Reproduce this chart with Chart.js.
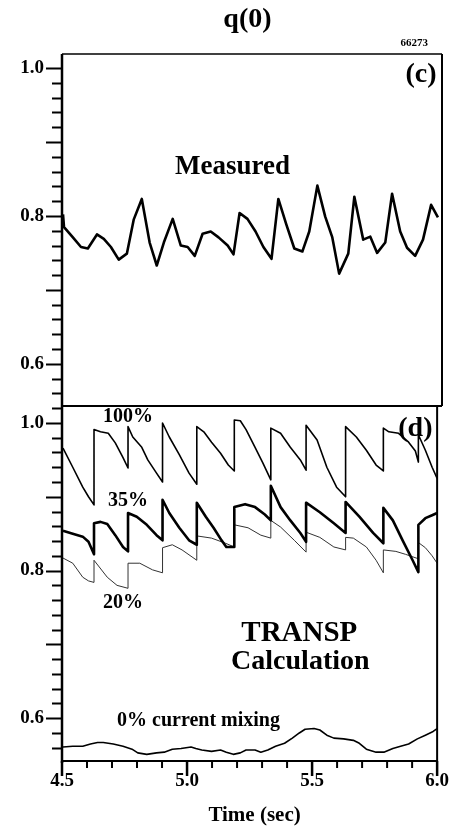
<!DOCTYPE html>
<html>
<head>
<meta charset="utf-8">
<script src="https://cdn.jsdelivr.net/npm/chart.js@4.4.1/dist/chart.umd.min.js"></script>
<style>
  html, body { margin: 0; padding: 0; background: #fff; }
  #wrap { position: relative; width: 458px; height: 828px; }
  canvas { position: absolute; left: 0; top: 0; }
</style>
</head>
<body>
<div id="wrap">
  <canvas id="topChart" width="458" height="828"></canvas>
  <canvas id="botChart" width="458" height="828"></canvas>
</div>
<script>
// measured q(0)
const measT = [4.504,4.508,4.543,4.575,4.602,4.638,4.665,4.693,4.724,4.756,4.783,4.815,4.846,4.874,4.902,4.937,4.969,4.996,5.024,5.055,5.087,5.118,5.154,5.177,5.201,5.232,5.264,5.295,5.327,5.354,5.386,5.417,5.449,5.476,5.508,5.539,5.567,5.594,5.630,5.654,5.689,5.717,5.744,5.776,5.803,5.835,5.862,5.894,5.925,5.957,5.984];
const measQ = [0.802,0.785,0.771,0.758,0.756,0.775,0.769,0.758,0.741,0.749,0.795,0.823,0.764,0.733,0.764,0.796,0.760,0.758,0.746,0.776,0.779,0.771,0.760,0.748,0.804,0.796,0.779,0.758,0.742,0.823,0.788,0.756,0.752,0.779,0.841,0.799,0.771,0.722,0.749,0.826,0.768,0.772,0.750,0.764,0.830,0.779,0.757,0.746,0.768,0.815,0.798];

// TRANSP, 100% mixing
const t100 = [4.504,4.543,4.583,4.606,4.628, 4.628,4.654,4.685,4.713,4.744,4.764, 4.764,4.783,4.819,4.843,4.878,4.902, 4.902,4.929,4.969,5.008,5.039, 5.039,5.067,5.098,5.134,5.165,5.189, 5.189,5.213,5.236,5.272,5.303,5.335, 5.335,5.374,5.413,5.453,5.476, 5.476,5.520,5.559,5.598,5.634, 5.634,5.677,5.717,5.756,5.785, 5.785,5.807,5.846,5.886,5.913,5.925, 5.925,5.953,5.980,6.000];
const q100 = [0.966,0.940,0.913,0.900,0.889, 0.991,0.988,0.986,0.973,0.953,0.939, 0.995,0.981,0.967,0.950,0.932,0.920, 1.000,0.981,0.957,0.932,0.917, 0.995,0.988,0.974,0.959,0.943,0.935, 1.004,1.003,0.991,0.967,0.946,0.923, 0.993,0.986,0.967,0.950,0.936, 0.997,0.977,0.940,0.913,0.900, 0.995,0.981,0.963,0.943,0.935, 0.993,0.988,0.986,0.974,0.962,0.947, 0.984,0.963,0.940,0.925];

// 35% mixing
const t35 = [4.504,4.543,4.583,4.606,4.628, 4.628,4.654,4.681,4.713,4.744,4.764, 4.764,4.799,4.839,4.878,4.902, 4.902,4.929,4.969,5.008,5.039, 5.039,5.075,5.106,5.138,5.157,5.189, 5.189,5.232,5.272,5.311,5.335, 5.335,5.374,5.413,5.453,5.476, 5.476,5.531,5.587,5.634, 5.634,5.689,5.744,5.785, 5.785,5.823,5.862,5.902,5.925, 5.925,5.953,5.980,6.000];
const q35 = [0.854,0.850,0.846,0.839,0.822, 0.864,0.866,0.863,0.848,0.832,0.826, 0.878,0.873,0.862,0.848,0.841, 0.896,0.878,0.858,0.841,0.835, 0.892,0.873,0.858,0.841,0.832,0.832, 0.886,0.890,0.886,0.876,0.868, 0.915,0.886,0.868,0.851,0.839, 0.892,0.879,0.864,0.851, 0.893,0.873,0.851,0.837, 0.885,0.868,0.841,0.814,0.798, 0.862,0.871,0.875,0.878];

// 20% mixing
const t20 = [4.504,4.543,4.583,4.606,4.628, 4.628,4.681,4.720,4.764, 4.764,4.811,4.862,4.902, 4.902,4.941,4.980,5.039, 5.039,5.098,5.154,5.189, 5.189,5.244,5.295,5.335, 5.335,5.374,5.429,5.476, 5.476,5.531,5.587,5.634, 5.634,5.665,5.717,5.756,5.785, 5.785,5.835,5.874,5.925, 5.925,5.953,5.980,6.000];
const q20 = [0.817,0.810,0.791,0.786,0.784, 0.814,0.791,0.780,0.776, 0.810,0.810,0.801,0.797, 0.831,0.835,0.828,0.814, 0.847,0.844,0.837,0.832, 0.862,0.858,0.848,0.844, 0.868,0.859,0.841,0.825, 0.852,0.845,0.832,0.828, 0.845,0.844,0.832,0.814,0.797, 0.828,0.826,0.822,0.816, 0.838,0.831,0.820,0.810];

// 0% current mixing
const t0 = [4.504,4.543,4.583,4.614,4.642,4.665,4.705,4.744,4.780,4.803,4.839,4.878,4.909,4.941,4.976,5.016,5.035,5.059,5.098,5.134,5.157,5.185,5.213,5.236,5.272,5.295,5.323,5.354,5.390,5.421,5.449,5.472,5.508,5.531,5.559,5.587,5.626,5.665,5.689,5.717,5.756,5.787,5.823,5.854,5.886,5.921,5.953,5.984,6.000];
const q0 = [0.561,0.562,0.562,0.565,0.567,0.567,0.565,0.562,0.558,0.553,0.551,0.553,0.554,0.558,0.559,0.561,0.559,0.557,0.555,0.557,0.554,0.551,0.553,0.557,0.557,0.554,0.557,0.562,0.566,0.573,0.580,0.585,0.586,0.584,0.577,0.573,0.572,0.570,0.566,0.558,0.554,0.554,0.559,0.562,0.565,0.572,0.577,0.582,0.586];

const yLabels = [0.6, 0.8, 1.0];
const xLabels = [4.5, 5.0, 5.5, 6.0];

const FONT = "'Liberation Serif', 'Times New Roman', serif";
const pts = (ts, qs) => ts.map((t, i) => ({x: t, y: qs[i]}));

// box + tick marks of different lengths
const frameTicks = {
  id: 'frameTicks',
  afterDraw(chart, args, opts) {
    const {ctx, chartArea: {left, top, right, bottom}} = chart;
    const y = chart.scales.y, x = chart.scales.x;
    ctx.save();
    ctx.strokeStyle = '#000';
    ctx.lineCap = 'butt';
    ctx.lineWidth = 1.6;
    ctx.beginPath(); ctx.moveTo(left, top); ctx.lineTo(right, top); ctx.stroke();
    ctx.lineWidth = 2;
    ctx.beginPath(); ctx.moveTo(left, bottom); ctx.lineTo(right, bottom); ctx.stroke();
    ctx.beginPath(); ctx.moveTo(right, top); ctx.lineTo(right, bottom); ctx.stroke();
    ctx.lineWidth = 2.5;
    ctx.beginPath(); ctx.moveTo(left, top); ctx.lineTo(left, bottom + (opts.xTicks ? 2 : 0)); ctx.stroke();
    // y ticks every 0.02
    ctx.lineWidth = 2;
    for (let k = Math.ceil(y.min * 50); k <= Math.floor(y.max * 50); k++) {
      const py = Math.round(y.getPixelForValue(k / 50)) + 0.5;
      const len = (k % 5 === 0) ? 16 : 10;
      ctx.beginPath(); ctx.moveTo(left - len, py); ctx.lineTo(left, py); ctx.stroke();
    }
    // x ticks every 0.1
    if (opts.xTicks) {
      for (let k = 45; k <= 60; k++) {
        const px = x.getPixelForValue(k / 10);
        const len = (k % 5 === 0) ? 15 : 7;
        ctx.lineWidth = (k % 5 === 0) ? 2.5 : 2;
        ctx.beginPath(); ctx.moveTo(px, bottom); ctx.lineTo(px, bottom + len); ctx.stroke();
      }
    }
    ctx.restore();
  }
};

// annotation texts placed in data coordinates
const notes = {
  id: 'notes',
  afterDraw(chart, args, opts) {
    const {ctx} = chart;
    const x = chart.scales.x, y = chart.scales.y;
    ctx.save();
    ctx.fillStyle = '#000';
    ctx.textBaseline = 'middle';
    (opts.items || []).forEach(n => {
      ctx.font = 'bold ' + n.size + 'px ' + FONT;
      ctx.textAlign = n.align || 'center';
      ctx.fillText(n.text, x.getPixelForValue(n.t), y.getPixelForValue(n.q));
    });
    ctx.restore();
  }
};

function yScale(min, max) {
  return {
    type: 'linear',
    min: min,
    max: max,
    afterFit(s) { s.width = 62; },
    afterBuildTicks(s) { s.ticks = yLabels.map(v => ({value: v})); },
    grid: {display: false, drawTicks: false},
    border: {display: false},
    ticks: {
      padding: 18,
      color: '#000',
      font: {family: FONT, size: 19, weight: 'bold'},
      callback: v => v.toFixed(1)
    }
  };
}

const lineDs = (data, w, color) => ({
  data: data,
  borderColor: color || '#000',
  borderWidth: w,
  pointRadius: 0,
  tension: 0,
  fill: false,
  borderJoinStyle: 'round'
});

new Chart(document.getElementById('topChart'), {
  type: 'line',
  data: {datasets: [lineDs(pts(measT, measQ), 2.6)]},
  options: {
    responsive: false,
    animation: false,
    layout: {padding: {left: 0, right: 16, top: 54, bottom: 422}},
    plugins: {
      legend: {display: false},
      tooltip: {enabled: false},
      frameTicks: {xTicks: false},
      notes: {items: [
        {text: 'q(0)', t: 5.232, q: 1.065, size: 28},
        {text: '66273', t: 5.890, q: 1.034, size: 11},
        {text: '(c)', t: 5.917, q: 0.991, size: 28},
        {text: 'Measured', t: 5.173, q: 0.866, size: 27}
      ]}
    },
    scales: {
      x: {type: 'linear', min: 4.5, max: 6.0, display: false},
      y: yScale(0.543, 1.019)
    }
  },
  plugins: [frameTicks, notes]
});

new Chart(document.getElementById('botChart'), {
  type: 'line',
  data: {datasets: [
    lineDs(pts(t100, q100), 1.6),
    lineDs(pts(t35, q35), 2.6),
    lineDs(pts(t20, q20), 1, '#333'),
    lineDs(pts(t0, q0), 1.6)
  ]},
  options: {
    responsive: false,
    animation: false,
    layout: {padding: {left: 0, right: 16, top: 406, bottom: 0}},
    plugins: {
      legend: {display: false},
      tooltip: {enabled: false},
      frameTicks: {xTicks: true},
      notes: {items: [
        {text: '(d)', t: 5.913, q: 0.992, size: 28},
        {text: '100%', t: 4.764, q: 1.008, size: 20},
        {text: '35%', t: 4.764, q: 0.894, size: 20},
        {text: '20%', t: 4.744, q: 0.756, size: 20},
        {text: 'TRANSP', t: 5.449, q: 0.715, size: 29},
        {text: 'Calculation', t: 5.453, q: 0.676, size: 28},
        {text: '0% current mixing', t: 4.720, q: 0.597, size: 20, align: 'left'},
        {text: 'Time (sec)', t: 5.27, q: 0.468, size: 21}
      ]}
    },
    scales: {
      x: {
        type: 'linear',
        min: 4.5,
        max: 6.0,
        afterFit(s) { s.height = 67; },
        afterBuildTicks(s) { s.ticks = xLabels.map(v => ({value: v})); },
        grid: {display: false, drawTicks: false},
        border: {display: false},
        ticks: {
          padding: 9,
          maxRotation: 0,
          color: '#000',
          font: {family: FONT, size: 19, weight: 'bold'},
          callback: v => v.toFixed(1)
        }
      },
      y: yScale(0.542, 1.023)
    }
  },
  plugins: [frameTicks, notes]
});
</script>
</body>
</html>
